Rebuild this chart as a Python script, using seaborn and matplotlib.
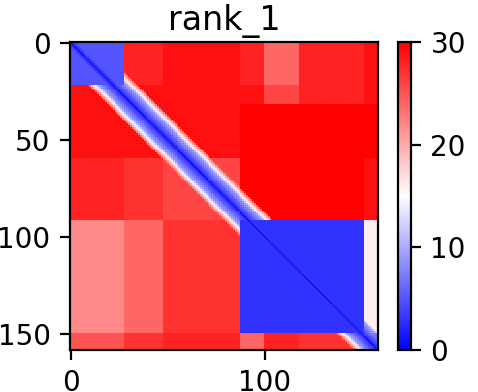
import numpy as np
import pandas as pd
import seaborn as sns
import matplotlib.pyplot as plt

# === DATA ===
n_res = 159
title = "rank_1"

# segment edges along the aligned (row) and scored (column) residues
row_edges = [0, 22, 32, 60, 92, 150, 159]
col_edges = [0, 28, 48, 88, 100, 118, 152, 159]

# expected error per block (rows x cols)
block_pae = [
    [5, 28, 29, 28, 24, 28, 29],
    [29, 29, 29, 29, 26, 28, 29],
    [29, 29, 29, 30, 30, 30, 30],
    [28, 27, 26, 30, 30, 30, 29],
    [22, 24, 27, 3, 3, 3, 16],
    [25, 27, 28, 24, 28, 27, 7],
]

# error along the diagonal band, indexed by |i - j|
band_pae = [1, 3, 4, 5, 6, 7, 8, 9, 11, 14, 17, 20, 23]

xtick_vals = [0, 100]
ytick_vals = [0, 50, 100, 150]
cbar_ticks = [0, 10, 20, 30]

# === Build matrix ===
row_seg = np.searchsorted(row_edges, np.arange(n_res), side="right") - 1
col_seg = np.searchsorted(col_edges, np.arange(n_res), side="right") - 1
pae = np.array(block_pae, dtype=float)[row_seg[:, None], col_seg[None, :]]

offset = np.abs(np.arange(n_res)[:, None] - np.arange(n_res)[None, :])
near = offset < len(band_pae)
band = np.full_like(pae, 99.0)
band[near] = np.array(band_pae, dtype=float)[offset[near]]
pae = np.minimum(pae, band)

df = pd.DataFrame(pae)

# === Plot ===
fig = plt.figure(figsize=(4.78, 3.92), dpi=100)
ax = fig.add_axes([0.1464, 0.1071, 0.6444, 0.7857])
cax = fig.add_axes([0.8326, 0.1071, 0.0272, 0.7857])

sns.heatmap(df, ax=ax, cbar_ax=cax, cmap="bwr", vmin=0, vmax=30,
            xticklabels=False, yticklabels=False, rasterized=True)

for sp in ax.spines.values():
    sp.set_visible(True)
    sp.set_linewidth(1.6)
ax.set_xticks(np.array(xtick_vals) + 0.5)
ax.set_xticklabels([str(v) for v in xtick_vals], fontsize=20)
ax.set_yticks(np.array(ytick_vals) + 0.5)
ax.set_yticklabels([str(v) for v in ytick_vals], fontsize=20, rotation=0)
ax.tick_params(length=7, width=1.6, pad=7)
ax.set_xlabel("")
ax.set_ylabel("")
ax.set_title(title, fontsize=24, pad=9)

cbar = ax.collections[0].colorbar
cbar.outline.set_visible(True)
cbar.outline.set_linewidth(1.6)
cbar.set_ticks(cbar_ticks)
cbar.ax.tick_params(labelsize=20, length=7, width=1.6, pad=7)

fig.savefig("out.png", dpi=100)
